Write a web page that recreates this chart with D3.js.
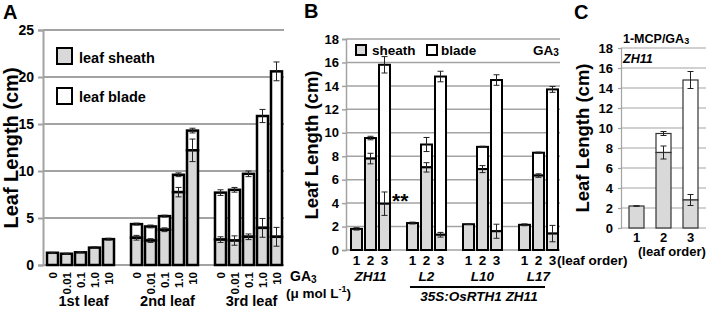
<!DOCTYPE html>
<html><head><meta charset="utf-8">
<script src="https://cdn.jsdelivr.net/npm/d3@7"></script>
<style>
body{margin:0;background:#fff;}
svg{display:block;font-family:"Liberation Sans",Arial,sans-serif;font-weight:bold;}
</style></head><body>
<svg id="chart" width="709" height="311"></svg>
<script>
// ---------- Panel A data ----------
const aDoses = ["0","0.01","0.1","1.0","10"];
const aGroups = ["1st leaf","2nd leaf","3rd leaf"];
const aSheath    = [1.3,1.2,1.35,1.85,2.75, 2.9,2.6,3.75,7.75,12.2, 2.7,2.6,3.0,3.95,3.0];
const aSheathErr = [0.05,0.05,0.05,0.08,0.1, 0.25,0.2,0.2,0.5,1.2, 0.3,0.5,0.3,1.0,1.0];
const aTotal     = [1.3,1.2,1.35,1.85,2.75, 4.35,4.1,5.2,9.6,14.3, 7.7,8.0,9.7,15.85,20.6];
const aTotalErr  = [0,0,0,0,0, 0.1,0.15,0.1,0.2,0.25, 0.3,0.25,0.3,0.7,1.0];
const aTicks = [0,5,10,15,20,25];

// ---------- Panel B data ----------
const bLines = ["ZH11","L2","L10","L17"];
const bOrder = ["1","2","3"];
const bSheath    = [1.8,7.8,3.95, 2.3,7.05,1.3, 2.2,6.9,1.6, 2.15,6.35,1.4];
const bSheathErr = [0.1,0.45,1.0, 0.08,0.4,0.2, 0.03,0.3,0.6, 0.08,0.15,0.7];
const bTotal     = [1.8,9.55,15.8, 2.3,9.0,14.8, 2.2,8.8,14.5, 2.15,8.3,13.7];
const bTotalErr  = [0,0.15,0.7, 0,0.6,0.45, 0,0.05,0.45, 0,0.05,0.25];
const bTicks = [0,2,4,6,8,10,12,14,16,18];

// ---------- Panel C data ----------
const cOrder = ["1","2","3"];
const cSheath    = [2.2,7.55,2.8];
const cSheathErr = [0.03,0.65,0.55];
const cTotal     = [2.2,9.45,14.8];
const cTotalErr  = [0,0.2,0.85];
const cTicks = [0,2,4,6,8,10,12,14,16,18];

const svg = d3.select("#chart");
const SHEATH = "#d9d9d9";

function panel(o){
  const g = svg.append("g");
  const nSlots = o.groups * (o.per + 1) - 1;
  const x = d3.scaleBand().domain(d3.range(nSlots)).range(o.xr)
      .paddingInner(o.pad).paddingOuter(o.pad/2);
  const y = d3.scaleLinear().domain([0, o.max]).range(o.yr);
  g.selectAll("line.grid").data(o.ticks.filter(t=>t>0)).join("line")
    .attr("x1", o.axisX).attr("x2", o.xr2).attr("y1", d=>y(d)).attr("y2", d=>y(d))
    .attr("stroke","#a3a3a3").attr("stroke-width", o.gw);
  const ax = d3.axisLeft(y).tickValues(o.ticks).tickSize(o.tickLen).tickPadding(o.tickPad);
  const axG = g.append("g").attr("transform",`translate(${o.axisX},0)`).call(ax);
  axG.select(".domain").attr("stroke","#a3a3a3").attr("stroke-width",o.gw);
  axG.selectAll(".tick line").attr("stroke","#a3a3a3").attr("stroke-width",o.gw);
  axG.selectAll("text").attr("font-size",o.tickFs).attr("font-weight","bold")
     .attr("font-family","Liberation Sans, Arial, sans-serif").attr("fill","#000");
  g.append("line").attr("x1",o.axisX).attr("x2",o.xr2).attr("y1",y(0)).attr("y2",y(0))
    .attr("stroke","#a3a3a3").attr("stroke-width",o.gw);
  const items = o.sheath.map((s,i)=>({i, slot: Math.floor(i/o.per)*(o.per+1) + i%o.per,
      s, se:o.sheathErr[i], t:o.total[i], te:o.totalErr[i]}));
  g.selectAll("rect.blade").data(items.filter(d=>d.t>d.s)).join("rect")
    .attr("x", d=>x(d.slot)).attr("width", x.bandwidth())
    .attr("y", d=>y(d.t)).attr("height", d=>y(d.s)-y(d.t))
    .attr("fill","#fff").attr("stroke",o.barStroke).attr("stroke-width",o.bw);
  g.selectAll("rect.sheath").data(items).join("rect")
    .attr("x", d=>x(d.slot)).attr("width", x.bandwidth())
    .attr("y", d=>y(d.s)).attr("height", d=>y(0)-y(d.s))
    .attr("fill",SHEATH).attr("stroke",o.barStroke).attr("stroke-width",o.bw);
  const errs = [];
  items.forEach(d=>{
    if(d.se>0) errs.push({slot:d.slot,v:d.s,e:d.se});
    if(d.t>d.s && d.te>0) errs.push({slot:d.slot,v:d.t,e:d.te});
  });
  const cx = d=>x(d.slot)+x.bandwidth()/2;
  const eg = g.append("g").attr("stroke","#222").attr("stroke-width",1);
  eg.selectAll("line.v").data(errs).join("line")
    .attr("x1",cx).attr("x2",cx).attr("y1",d=>y(d.v+d.e)).attr("y2",d=>y(d.v-d.e));
  eg.selectAll("line.t").data(errs).join("line")
    .attr("x1",d=>cx(d)-o.cap).attr("x2",d=>cx(d)+o.cap).attr("y1",d=>y(d.v+d.e)).attr("y2",d=>y(d.v+d.e));
  eg.selectAll("line.b").data(errs).join("line")
    .attr("x1",d=>cx(d)-o.cap).attr("x2",d=>cx(d)+o.cap).attr("y1",d=>y(d.v-d.e)).attr("y2",d=>y(d.v-d.e));
  return {g,x,y,items,cx};
}

function text(g, x, y, s, fs, opts={}){
  const t = g.append("text").attr("x",x).attr("y",y).attr("font-size",fs)
    .attr("font-weight","bold").attr("fill","#000").text(s);
  if(opts.anchor) t.attr("text-anchor",opts.anchor);
  if(opts.italic) t.attr("font-style","italic");
  return t;
}
function vtitle(x, y, fs){
  svg.append("text").attr("transform",`translate(${x},${y}) rotate(-90)`)
    .attr("text-anchor","middle").attr("font-size",fs).attr("font-weight","bold").text("Leaf Length (cm)");
}

// ===== Panel A =====
const A = panel({groups:3, per:5, xr:[45.5,283.5], pad:3/14, max:25, yr:[265,30],
  axisX:43, xr2:284, ticks:aTicks, gw:2, tickLen:5, tickPad:4, tickFs:14,
  sheath:aSheath, sheathErr:aSheathErr, total:aTotal, totalErr:aTotalErr,
  barStroke:"#000", bw:2.5, cap:3});
text(svg, 3, 19, "A", 20);
vtitle(18, 148, 20);
A.items.forEach((d,i)=>{
  svg.append("text").attr("transform",`translate(${A.cx(d)+4.5},272) rotate(-90)`)
    .attr("text-anchor","end").attr("font-size",11.5).attr("font-weight","bold").text(aDoses[i%5]);
});
aGroups.forEach((gname,gi)=>{
  const c = (A.cx(A.items[gi*5]) + A.cx(A.items[gi*5+4]))/2 + 3;
  text(svg, c, 306, gname, 14.5, {anchor:"middle"});
});
const gaA = text(svg, 290, 281, "GA", 14);
gaA.append("tspan").attr("font-size",10).attr("dy",2).text("3");
const unitA = text(svg, 286, 298, "(μ mol L", 13.5);
unitA.append("tspan").attr("font-size",9).attr("dy",-6).text("-1");
unitA.append("tspan").attr("dy",6).text(")");
svg.append("rect").attr("x",57).attr("y",48).attr("width",15).attr("height",16)
  .attr("fill",SHEATH).attr("stroke","#000").attr("stroke-width",2);
text(svg, 79, 63, "leaf sheath", 14.5);
svg.append("rect").attr("x",57).attr("y",88).attr("width",15).attr("height",16)
  .attr("fill","#fff").attr("stroke","#000").attr("stroke-width",2);
text(svg, 79, 102, "leaf blade", 14.5);

// ===== Panel B =====
const B = panel({groups:4, per:3, xr:[349.5,559.5], pad:3/14, max:18, yr:[250,39],
  axisX:346, xr2:560, ticks:bTicks, gw:1.5, tickLen:4, tickPad:3, tickFs:13,
  sheath:bSheath, sheathErr:bSheathErr, total:bTotal, totalErr:bTotalErr,
  barStroke:"#000", bw:2, cap:3});
text(svg, 304, 18, "B", 20);
vtitle(318, 145, 18.5);
B.items.forEach((d,i)=>{
  text(svg, B.cx(d), 265, bOrder[i%3], 13.5, {anchor:"middle"});
});
bLines.forEach((ln,gi)=>{
  const c = B.cx(B.items[gi*3+1]);
  text(svg, c, 281, ln, 13.5, {anchor:"middle", italic:true});
});
text(svg, 557, 265, "(leaf order)", 13.5);
svg.append("line").attr("x1",410).attr("x2",545).attr("y1",287).attr("y2",287)
  .attr("stroke","#000").attr("stroke-width",2);
text(svg, 479, 301, "35S:OsRTH1 ZH11", 13.5, {anchor:"middle", italic:true});
text(svg, 392, 208, "**", 21);
svg.append("rect").attr("x",356).attr("y",45).attr("width",10).attr("height",10)
  .attr("fill",SHEATH).attr("stroke","#000").attr("stroke-width",2);
text(svg, 372, 55, "sheath", 13.5);
svg.append("rect").attr("x",427).attr("y",45).attr("width",10).attr("height",10)
  .attr("fill","#fff").attr("stroke","#000").attr("stroke-width",2);
text(svg, 441, 55, "blade", 13.5);
const gaB = text(svg, 533, 55, "GA", 13.5);
gaB.append("tspan").attr("font-size",10).attr("dy",1).text("3");

// ===== Panel C =====
const C = panel({groups:1, per:3, xr:[623,704], pad:12/27, max:18, yr:[228,48],
  axisX:621, xr2:706, ticks:cTicks, gw:1.2, tickLen:3, tickPad:5, tickFs:13,
  sheath:cSheath, sheathErr:cSheathErr, total:cTotal, totalErr:cTotalErr,
  barStroke:"#333", bw:1.2, cap:3});
text(svg, 574, 19, "C", 20);
vtitle(589, 138, 18.5);
C.items.forEach((d,i)=>{
  text(svg, C.cx(d), 242, cOrder[i], 13, {anchor:"middle"});
});
text(svg, 638, 256, "(leaf order)", 13);
const mcp = text(svg, 623, 43, "1-MCP/GA", 12.5);
mcp.append("tspan").attr("font-size",9).attr("dy",1).text("3");
text(svg, 623, 63, "ZH11", 12.5, {italic:true});
</script>
</body></html>
